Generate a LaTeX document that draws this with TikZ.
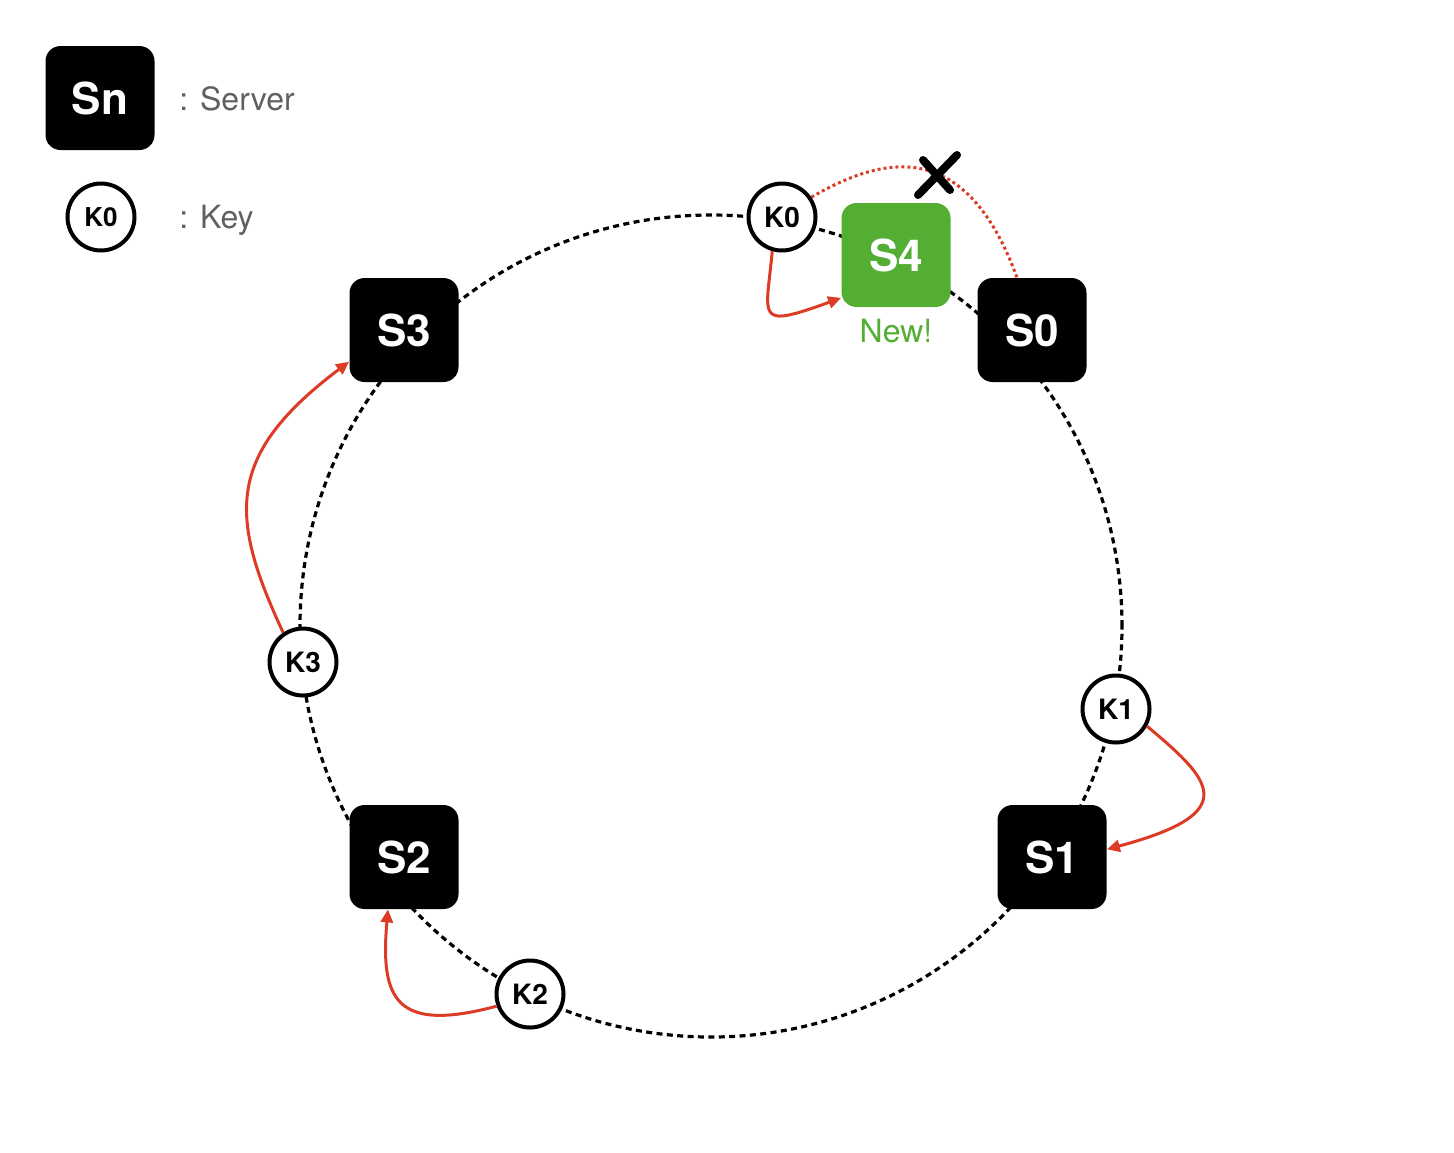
\documentclass[tikz,border=0pt]{standalone}
\usepackage{fontspec}
\setmainfont{TeX Gyre Heros}
\usepackage{tikz}
\usetikzlibrary{shapes, arrows.meta, positioning}
\definecolor{keyred}{RGB}{220,59,38}
\definecolor{newgreen}{RGB}{83,174,51}
\definecolor{legendgray}{RGB}{96,96,96}
\tikzstyle{snode} = [rectangle, rounded corners=7.5pt, fill=black, text=white, minimum width=54.5pt, minimum height=52pt, inner sep=0pt, font=\fontsize{22}{22}\selectfont\bfseries]
\tikzstyle{newnode} = [snode, fill=newgreen]
\tikzstyle{knode} = [circle, draw, fill=white, line width=2pt, minimum size=33.5pt, inner sep=0pt, font=\fontsize{14}{14}\selectfont\bfseries]
\tikzstyle{ringline} = [draw, line width=1.6pt, dash pattern=on 3pt off 2.2pt]
\tikzstyle{keyarrow} = [draw, keyred, line width=1.5pt, -{Triangle[length=6.5pt, width=6pt]}]
\tikzstyle{oldarrow} = [draw, keyred, line width=1.5pt, dash pattern=on 1.5pt off 1.5pt]
\tikzstyle{legendtext} = [text=legendgray, inner sep=0pt, anchor=base west, font=\fontsize{16}{16}\selectfont]
\tikzstyle{crossline} = [draw, line width=4pt, line cap=round]

\begin{document}
\begin{tikzpicture}[x=0.5pt, y=-0.5pt]
			\useasboundingbox (0,0) rectangle (1454,1152);
			
			% legend
			\node [snode] (legendS) at (100,98) {Sn};
			\node [knode, font=\fontsize{13}{13}\selectfont\bfseries] (legendK) at (101,217) {K0};
			\node [legendtext] (serverText) at (179,110) {: Server};
			\node [legendtext] (keyText) at (179,228) {: Key};
			
			% ring
			\coordinate (center) at (711,626);
			\path [ringline] (center) circle [radius=205.5pt];
			
			% servers
			\node [snode] (s0) at (1032,330) {S0};
			\node [snode] (s1) at (1052,857) {S1};
			\node [snode] (s2) at (404,857) {S2};
			\node [snode] (s3) at (404,330) {S3};
			\node [newnode] (s4) at (896,255) {S4};
			\node [below=5.5pt of s4, text=newgreen, inner sep=0pt, font=\fontsize{16}{16}\selectfont] (newLabel) {New!};
			
			% keys
			\node [knode] (k0) at (782,217) {K0};
			\node [knode] (k1) at (1116,709) {K1};
			\node [knode] (k2) at (530,994) {K2};
			\node [knode] (k3) at (303,662) {K3};
			
			\path [keyarrow] (k0.254) to [out=265, in=200, out distance=33.6pt, in distance=46.5pt] (s4.218);
			\path [keyarrow] (k1.331) to [out=-40, in=15, out distance=41.75pt, in distance=71pt] (s1.8);
			\path [keyarrow] (k2.200) to [out=195, in=265, out distance=52.5pt, in distance=45pt] (s2.253);
			\path [keyarrow] (k3.124) to [out=115, in=217, out distance=65pt, in distance=77pt] (s3.210);
			\path [oldarrow] (k0.34) to [out=30, in=110, out distance=39pt, in distance=77pt] (s0.106);
			
			% crossed out
			\coordinate (cut) at (937,173);
			\path [crossline] ([shift={(-19,22)}]cut) -- ([shift={(20,-18)}]cut);
			\path [crossline] ([shift={(-14,-13)}]cut) -- ([shift={(13,17)}]cut);
		\end{tikzpicture}
\end{document}
